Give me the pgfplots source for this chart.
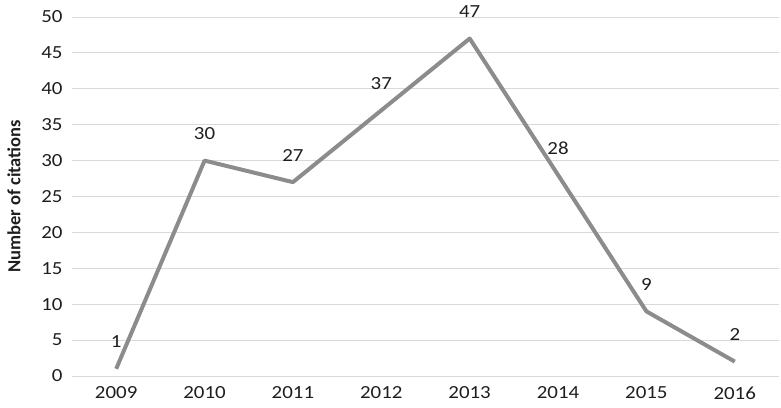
\documentclass[border=0pt]{standalone}
\usepackage{pgfplots}
\pgfplotsset{compat=1.18}
\usepackage{fontspec}
\setmainfont{Carlito}
\newfontfamily\widefont{Carlito}[FakeStretch=1.13]
\definecolor{lineg}{RGB}{140,140,140}
\definecolor{gridg}{RGB}{217,217,217}
\definecolor{txt}{RGB}{30,30,30}
\newcommand{\chartfont}{\widefont\fontsize{18.5}{22}\selectfont}
\begin{document}
\begin{tikzpicture}
\begin{axis}[
    scale only axis,
    width=707pt, height=359pt,
    xmin=2008.5, xmax=2016.5, ymin=0, ymax=50,
    xtick={2009,...,2016}, ytick={0,5,...,50},
    xticklabel style={/pgf/number format/1000 sep=},
    /pgf/number format/assume math mode=true,
    axis line style={draw=none},
    axis x line*=bottom,
    major tick length=0pt,
    ymajorgrids=true,
    grid style={gridg, line width=1pt},
    ticklabel style={font=\chartfont, text=txt},
    yticklabel style={anchor=east, xshift=-6pt},
    xticklabel style={anchor=center, yshift=-17pt},
    ylabel={\textbf{Number of citations}},
    ylabel style={font=\fontsize{18.5}{22}\selectfont, text=txt, anchor=center, at={(axis description cs:-0.082,0.5)}},
    clip=false,
  ]
\addplot[lineg, line width=4pt, line join=round,
         nodes near coords, every node near coord/.append style={font=\chartfont, text=txt, anchor=center, yshift=27pt}]
  coordinates {
  (2009,1) (2010,30) (2011,27) (2012,37) (2013,47) (2014,28) (2015,9) (2016,2)};
\end{axis}
\pgfresetboundingbox
\path[use as bounding box] (-72pt,-31pt) rectangle (709pt,376pt);
\end{tikzpicture}
\end{document}
